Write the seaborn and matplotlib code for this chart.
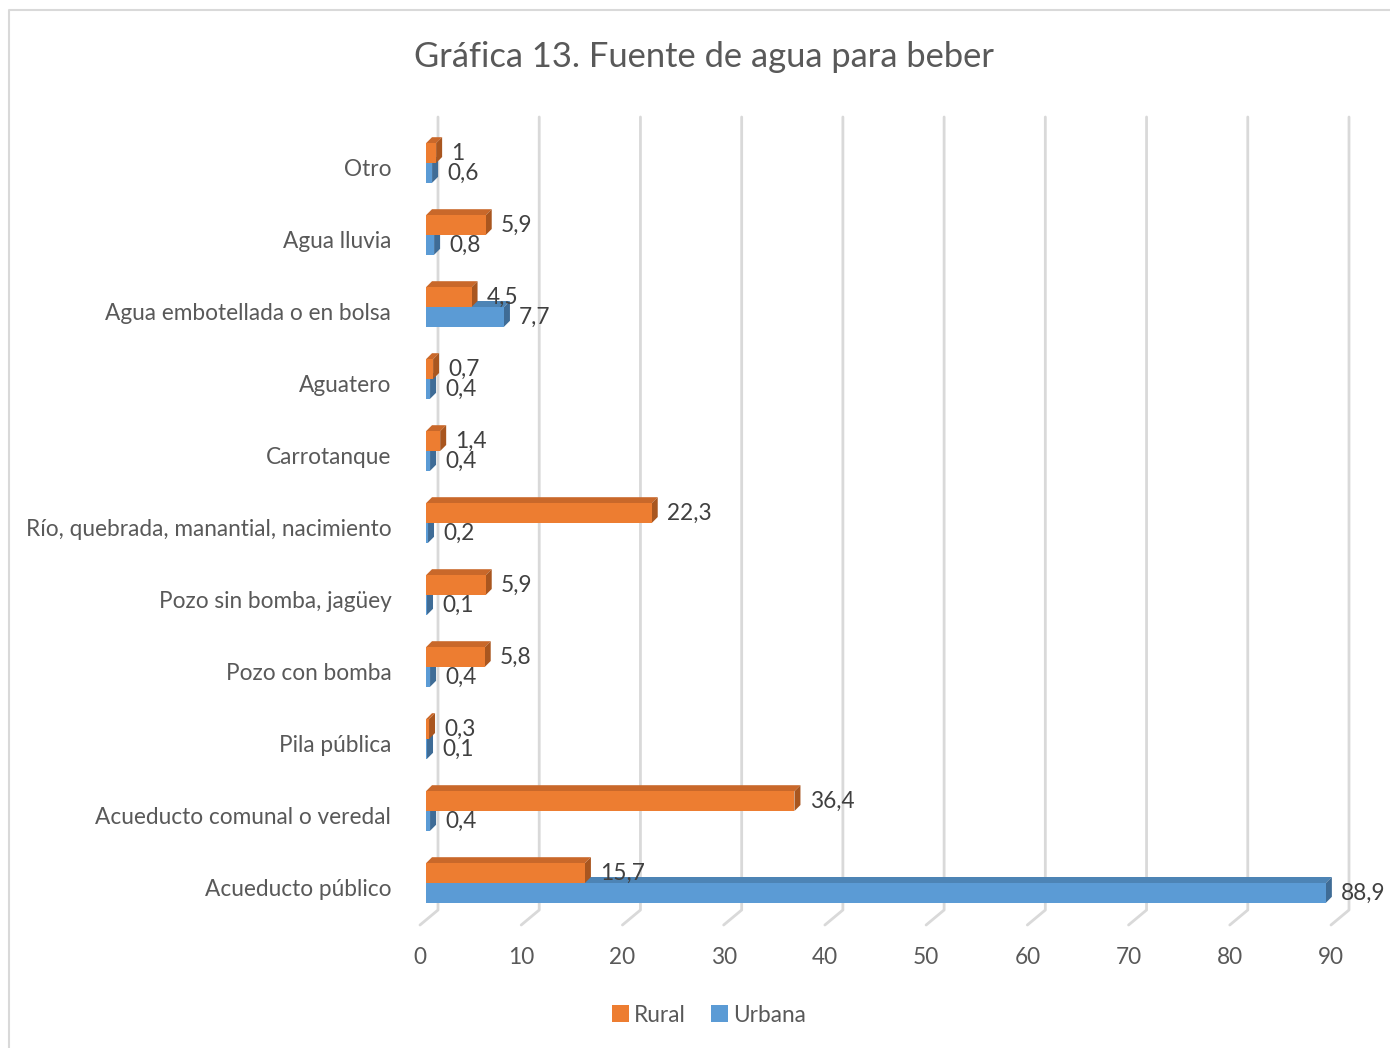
import numpy as np
import pandas as pd
import matplotlib
matplotlib.use("Agg")
import matplotlib.pyplot as plt
import matplotlib.transforms as mtransforms
from matplotlib.patches import Patch, Polygon
from matplotlib.lines import Line2D
import seaborn as sns

# Data
categorias = [
    "Otro",
    "Agua lluvia",
    "Agua embotellada o en bolsa",
    "Aguatero",
    "Carrotanque",
    "Río, quebrada, manantial, nacimiento",
    "Pozo sin bomba, jagüey",
    "Pozo con bomba",
    "Pila pública",
    "Acueducto comunal o veredal",
    "Acueducto público",
]
rural = [1, 5.9, 4.5, 0.7, 1.4, 22.3, 5.9, 5.8, 0.3, 36.4, 15.7]
urbana = [0.6, 0.8, 7.7, 0.4, 0.4, 0.2, 0.1, 0.4, 0.1, 0.4, 88.9]
series = ["Rural", "Urbana"]
x_ticks = list(range(0, 100, 10))

colores = {"Rural": "#ED7D31", "Urbana": "#5B9BD5"}
oscuro_top = {"Rural": "#C9682A", "Urbana": "#4D84B5"}
oscuro_lado = {"Rural": "#A9561F", "Urbana": "#3F6C96"}

df = pd.DataFrame({
    "fuente": categorias * 2,
    "valor": rural + urbana,
    "zona": ["Rural"] * len(categorias) + ["Urbana"] * len(categorias),
})

sns.set_theme(style="white")
plt.rcParams["font.family"] = ["Lato", "DejaVu Sans"]
TXT = "#595959"
FS = 16.3

W, H = 1390, 1048
fig = plt.figure(figsize=(W / 100, H / 100), dpi=100)

# axes placed so that bar plane x=0 -> px 426, x=90 -> px 1337
ax_l, ax_r = 426, 1337
ax_t, ax_b = 100, 940
ax = fig.add_axes([ax_l / W, 1 - ax_b / H, (ax_r - ax_l) / W, (ax_b - ax_t) / H])

sns.barplot(data=df, x="valor", y="fuente", hue="zona", orient="h",
            palette=colores, saturation=1, width=0.55, legend=False,
            linewidth=0, ax=ax, zorder=2)

px_x = (ax_r - ax_l) / 90.0
px_y = 72.0
# y pixel of category i (bar plane) = 163 + 72*i
ax.set_xlim(0, 90)
ax.set_ylim((ax_b - 163) / px_y, (ax_t - 163) / px_y)

# 3D look: top and side faces
dx, dy = 6 / px_x, 6 / px_y
orden = {"Urbana": (1.0, 2.0), "Rural": (3.0, 4.0)}
for cont, zona in zip(ax.containers, series):
    zf, zb = orden[zona]
    for bar in cont:
        bar.set_zorder(zb)
        bar.set_edgecolor("none")
        x0, y0 = bar.get_x(), bar.get_y()
        w, h = bar.get_width(), bar.get_height()
        ytop, ybot = min(y0, y0 + h), max(y0, y0 + h)
        x1 = x0 + w
        top = Polygon([(x0, ytop), (x1, ytop), (x1 + dx, ytop - dy), (x0 + dx, ytop - dy)],
                      closed=True, facecolor=oscuro_top[zona], edgecolor="none",
                      zorder=zf, clip_on=False)
        side = Polygon([(x1, ytop), (x1 + dx, ytop - dy), (x1 + dx, ybot - dy), (x1, ybot)],
                       closed=True, facecolor=oscuro_lado[zona], edgecolor="none",
                       zorder=zf, clip_on=False)
        ax.add_patch(top)
        ax.add_patch(side)
    etiquetas = [f"{v:g}".replace(".", ",") for v in cont.datavalues]
    ax.bar_label(cont, labels=etiquetas, padding=11, fontsize=FS, color="#404040")

# back-wall gridlines with floor diagonal
y_top = (117 - 163) / px_y
y_floor = (910 - 163) / px_y
y_front = (925 - 163) / px_y
for t in x_ticks:
    xb = t + 12 / px_x
    xf = t - 6 / px_x
    ax.add_line(Line2D([xb, xb, xf], [y_top, y_floor, y_front], color="#D9D9D9",
                       lw=2, zorder=0, clip_on=False))

for s in ax.spines.values():
    s.set_visible(False)
ax.set_xlabel("")
ax.set_ylabel("")
ax.set_xticks(x_ticks)
ax.set_xticklabels([str(t) for t in x_ticks])
ax.tick_params(axis="x", length=0, pad=5, labelsize=FS, labelcolor=TXT)
ax.tick_params(axis="y", length=0, pad=25, labelsize=FS, labelcolor=TXT)
ax.grid(False)

off_x = mtransforms.ScaledTranslation(-6 / 100, 0, fig.dpi_scale_trans)
for lab in ax.get_xticklabels():
    lab.set_transform(lab.get_transform() + off_x)
off_y = mtransforms.ScaledTranslation(0, -5 / 100, fig.dpi_scale_trans)
for lab in ax.get_yticklabels():
    lab.set_transform(lab.get_transform() + off_y)

fig.text(704 / W, 1 - 57 / H, "Gráfica 13. Fuente de agua para beber",
         ha="center", va="center", fontsize=24.8, color=TXT)

handles = [Patch(facecolor=colores[s], edgecolor="none") for s in series]
fig.legend(handles, series, loc="center", bbox_to_anchor=(709 / W, 1 - 1015 / H),
           ncol=2, frameon=False, fontsize=FS, handlelength=0.75, handleheight=0.75,
           handletextpad=0.25, columnspacing=1.1, labelcolor=TXT)

# chart border
fig.add_artist(Line2D([9 / W, 9 / W, 1], [0, 1 - 10 / H, 1 - 10 / H],
                      transform=fig.transFigure, color="#D9D9D9", lw=1.5))

fig.savefig("out.png", dpi=100)
